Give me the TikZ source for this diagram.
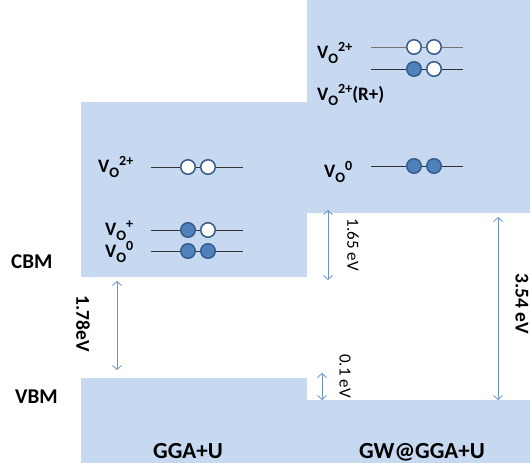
\documentclass[tikz,border=0pt]{standalone}
\usepackage{fontspec}
\setmainfont{Carlito}
\usetikzlibrary{arrows.meta}
\definecolor{blockblue}{RGB}{198,217,241}
\definecolor{efill}{RGB}{79,129,189}
\definecolor{eborder}{RGB}{56,93,138}
\definecolor{gapblue}{RGB}{108,148,204}
\newcommand{\volab}[1]{V\raisebox{-5pt}{\fontsize{14.5}{14.5}\selectfont O}\raisebox{7pt}{\fontsize{14}{14}\selectfont #1}}
\tikzset{
  blk/.style={fill=blockblue, draw=none},
  lab/.style={font=\fontsize{19}{19}\selectfont\bfseries, inner sep=0pt, anchor=base west},
  axlab/.style={font=\fontsize{21}{21}\selectfont\bfseries, inner sep=0pt, anchor=base west},
  methlab/.style={font=\fontsize{23}{23}\selectfont\bfseries, inner sep=0pt, anchor=base},
  lvl/.style={draw=black!80, line width=0.8pt},
  elec/.style={circle, draw=eborder, line width=1.5pt, minimum size=14.5pt, inner sep=0pt},
  full/.style={elec, fill=efill},
  empty/.style={elec, fill=white},
  gap/.style={draw=gapblue, line width=0.8pt, {Straight Barb[length=4pt,width=9pt]}-{Straight Barb[length=4pt,width=9pt]}},
  gaplab/.style={font=\fontsize{17}{17}\selectfont, inner sep=0pt, rotate=-90},
  gaplabb/.style={font=\fontsize{19.5}{19.5}\selectfont\bfseries, inner sep=0pt, rotate=-90},
}
\begin{document}
\begin{tikzpicture}[x=1pt,y=-1pt]
\useasboundingbox (0,0) rectangle (530,463);
% bands
\fill[blk] (81,102) rectangle (307,277);
\fill[blk] (307,0) rectangle (530,213);
\fill[blk] (81,378) rectangle (307,463);
\fill[blk] (307,400) rectangle (530,463);
% side labels
\node[axlab] (cbm) at (11,268) {CBM};
\node[axlab] (vbm) at (15,403) {VBM};
\node[methlab] (gga) at (188,458) {GGA+U};
\node[methlab] (gw) at (422,458) {GW@GGA+U};
% left levels
\node[lab] (la) at (98,172) {\volab{2+}};
\coordinate (la1) at (151,167); \coordinate (la2) at (243,167);
\draw[lvl] (la1) -- (la2);
\node[empty] (lac1) at (188,167) {};
\node[empty] (lac2) at (208,167) {};
\node[lab] (lb) at (105,235) {\volab{+}};
\coordinate (lb1) at (151,230); \coordinate (lb2) at (243,230);
\draw[lvl] (lb1) -- (lb2);
\node[full] (lbc1) at (188,230) {};
\node[empty] (lbc2) at (208,230) {};
\node[lab] (lc) at (105,257) {\volab{0}};
\coordinate (lc1) at (151,251); \coordinate (lc2) at (243,251);
\draw[lvl] (lc1) -- (lc2);
\node[full] (lcc1) at (188,251) {};
\node[full] (lcc2) at (208,251) {};
% right levels
\node[lab] (ra) at (317,58) {\volab{2+}};
\coordinate (ra1) at (371,47); \coordinate (ra2) at (463,47);
\draw[lvl, draw=black!55] (ra1) -- (ra2);
\node[empty] (rac1) at (414,47) {};
\node[empty] (rac2) at (434,47) {};
\coordinate (rb1) at (371,69); \coordinate (rb2) at (463,69);
\draw[lvl] (rb1) -- (rb2);
\node[full] (rbc1) at (414,69) {};
\node[empty] (rbc2) at (434,69) {};
\node[lab] (rb) at (317,100) {\volab{2+}(R+)};
\node[lab] (rc) at (324,177) {\volab{0}};
\coordinate (rc1) at (371,166); \coordinate (rc2) at (463,166);
\draw[lvl] (rc1) -- (rc2);
\node[full] (rcc1) at (414,166) {};
\node[full] (rcc2) at (434,166) {};
% gaps
\coordinate (g1t) at (117,281); \coordinate (g1b) at (117,370);
\draw[gap] (g1t) -- (g1b);
\node[gaplabb] (g1l) at (83,324) {1.78eV};
\coordinate (g2t) at (328,210); \coordinate (g2b) at (328,280);
\draw[gap] (g2t) -- (g2b);
\node[gaplab] (g2l) at (353,245) {1.65 eV};
\coordinate (g3t) at (322,373); \coordinate (g3b) at (322,400);
\draw[gap] (g3t) -- (g3b);
\node[gaplab] (g3l) at (345,376) {0.1 eV};
\coordinate (g4t) at (498,217); \coordinate (g4b) at (498,400);
\draw[gap] (g4t) -- (g4b);
\node[gaplabb] (g4l) at (522,304) {3.54 eV};
\end{tikzpicture}
\end{document}
